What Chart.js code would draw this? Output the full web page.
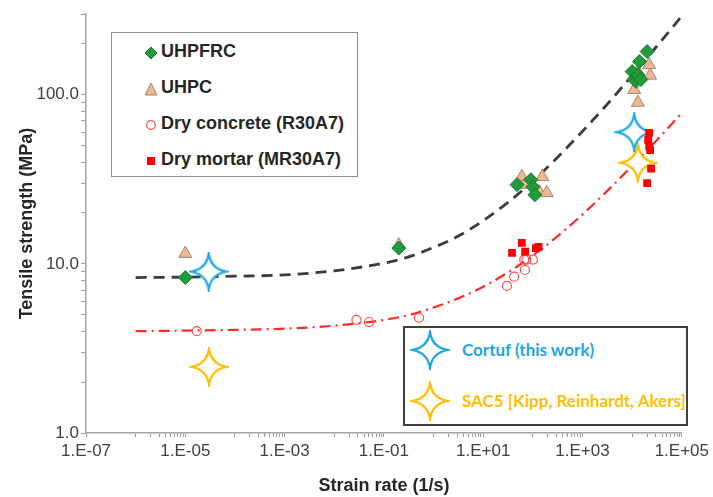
<!DOCTYPE html>
<html>
<head>
<meta charset="utf-8">
<script src="https://cdn.jsdelivr.net/npm/chart.js@4.4.1/dist/chart.umd.min.js"></script>
<style>
    body { margin: 0; background: #fff; }
    #wrap { position: relative; width: 713px; height: 497px; }
    .legend { position: absolute; box-sizing: border-box; background: #fff; }
    .legend .item { position: absolute; white-space: nowrap; line-height: 1; }
    .legend .mark { position: absolute; }
    #leg1 { left: 111px; top: 32px; width: 247px; height: 145px; border: 1.5px solid #8c8c8c;
        font: bold 18px "Liberation Sans", Arial, sans-serif; color: #262626; }
    #leg2 { left: 403px; top: 326px; width: 285px; height: 100px; border: 2px solid #404040;
        font: bold 17px Lato, "Open Sans", sans-serif; }
</style>
</head>
<body>
<div id="wrap">
    <canvas id="grafico" width="713" height="497"></canvas>
    <div id="leg1" class="legend"></div>
    <div id="leg2" class="legend"></div>
</div>
<script>
// Ejes
const xTicks = [1e-7, 1e-5, 1e-3, 1e-1, 1e1, 1e3, 1e5];
const xTickLabels = ['1.E-07', '1.E-05', '1.E-03', '1.E-01', '1.E+01', '1.E+03', '1.E+05'];
const yTicks = [1, 10, 100];
const yTickLabels = ['1.0', '10.0', '100.0'];

// UHPFRC (rombos verdes)
const uhpfrcRate = [1e-5, 0.2, 48, 91, 100, 110, 1.0e4, 1.1e4, 1.2e4, 1.3e4, 1.4e4, 1.5e4, 2.0e4];
const uhpfrcMPa = [8.3, 12.4, 29.4, 31.4, 28.5, 25.6, 137, 123, 120, 131, 157, 123, 180];

// UHPC (triángulos)
const uhpcRate = [1e-5, 0.2, 60, 70, 135, 155, 190, 1.1e4, 1.3e4, 1.3e4, 2.2e4, 2.3e4];
const uhpcMPa = [11.5, 12.9, 32.7, 29.4, 26.6, 32.7, 26.3, 107, 90, 137, 150, 130];

// Dry concrete (R30A7) círculos
const concreteRate = [1.7e-5, 0.028, 0.05, 0.51, 30, 42, 67, 69, 74, 100];
const concreteMPa = [4.0, 4.66, 4.53, 4.8, 7.4, 8.4, 10.6, 9.2, 10.6, 10.6];

// Dry mortar (MR30A7) cuadrados
const mortarRate = [38, 60, 70, 115, 130, 2.0e4, 2.1e4, 2.2e4, 2.2e4, 2.3e4, 2.4e4];
const mortarMPa = [11.6, 13.3, 11.8, 12.4, 12.6, 30, 54, 59.5, 49.3, 47, 36.6];

// Estrellas
const cortufRate = [2.95e-5, 1.1e4];
const cortufMPa = [9.0, 60];
const sac5Rate = [3.0e-5, 1.3e4];
const sac5MPa = [2.46, 39.6];

// Curvas de ajuste
const fitRate = [1e-6, 1e-5, 1e-4, 1e-3, 1e-2, 1e-1, 0.316, 1, 3.16, 10, 31.6, 100, 316, 1e3, 3160, 1e4, 31600, 1e5];
const blackFit = [8.3, 8.35, 8.45, 8.6, 9.1, 10.1, 11.0, 12.5, 14.6, 18.0, 23.1, 30.8, 42.7, 60.8, 88, 130, 194, 292];
const redFit = [4.0, 4.03, 4.07, 4.14, 4.31, 4.66, 4.98, 5.52, 6.25, 7.33, 8.9, 11.2, 14.6, 19.6, 27, 38, 54, 78];

const pares = (xs, ys) => xs.map((x, i) => ({ x: x, y: ys[i] }));

// Estrella de cuatro puntas
function hacerEstrella(color, size) {
    const c = document.createElement('canvas');
    c.width = c.height = size;
    const g = c.getContext('2d');
    const m = size / 2, r = size / 2 - 2, k = r * 0.13;
    g.beginPath();
    g.moveTo(m, m - r);
    g.quadraticCurveTo(m + k, m - k, m + r, m);
    g.quadraticCurveTo(m + k, m + k, m, m + r);
    g.quadraticCurveTo(m - k, m + k, m - r, m);
    g.quadraticCurveTo(m - k, m - k, m, m - r);
    g.closePath();
    g.fillStyle = '#fff';
    g.fill();
    g.lineWidth = 2.2;
    g.strokeStyle = color;
    g.stroke();
    return c;
}

const AZUL = '#1ba6e6';
const ORO = '#ffbf00';

function mismoValor(a, b) {
    return Math.abs(Math.log10(a) - Math.log10(b)) < 1e-6;
}

function etiqueta(valores, textos) {
    return function (v) {
        const i = valores.findIndex(t => mismoValor(t, v));
        return i >= 0 ? textos[i] : '';
    };
}

const fuente = { family: '"Liberation Sans", Arial, sans-serif', size: 17 };
const fuenteTitulo = { family: '"Liberation Sans", Arial, sans-serif', size: 18, weight: 'bold' };

new Chart(document.getElementById('grafico'), {
    type: 'scatter',
    data: {
        datasets: [
            {
                label: 'Cortuf (this work)',
                data: pares(cortufRate, cortufMPa),
                pointStyle: hacerEstrella(AZUL, 40),
                order: 1
            },
            {
                label: 'SAC5 [Kipp, Reinhardt, Akers]',
                data: pares(sac5Rate, sac5MPa),
                pointStyle: hacerEstrella(ORO, 40),
                order: 1
            },
            {
                label: 'Dry mortar (MR30A7)',
                data: pares(mortarRate, mortarMPa),
                pointStyle: 'rect',
                pointRadius: 5.5,
                backgroundColor: '#ff0000',
                borderColor: '#ff0000',
                borderWidth: 0,
                order: 0
            },
            {
                label: 'UHPFRC',
                data: pares(uhpfrcRate, uhpfrcMPa),
                pointStyle: 'rectRot',
                pointRadius: 7,
                backgroundColor: '#1f9b3c',
                borderColor: '#187a2e',
                borderWidth: 1,
                order: 2
            },
            {
                label: 'UHPC',
                data: pares(uhpcRate, uhpcMPa),
                pointStyle: 'triangle',
                pointRadius: 7.5,
                backgroundColor: '#f2b68c',
                borderColor: '#9a8a80',
                borderWidth: 1,
                order: 3
            },
            {
                label: 'Dry concrete (R30A7)',
                data: pares(concreteRate, concreteMPa),
                pointStyle: 'circle',
                pointRadius: 4.5,
                backgroundColor: 'rgba(255,255,255,0)',
                borderColor: '#ff4d4d',
                borderWidth: 1.2,
                order: 2
            },
            {
                label: 'ajuste UHPC',
                data: pares(fitRate, blackFit),
                showLine: true,
                pointRadius: 0,
                borderColor: '#3c3c3c',
                borderWidth: 2.8,
                borderDash: [11, 7],
                cubicInterpolationMode: 'monotone',
                order: 5
            },
            {
                label: 'ajuste seco',
                data: pares(fitRate, redFit),
                showLine: true,
                pointRadius: 0,
                borderColor: '#ff2a2a',
                borderWidth: 2.2,
                borderDash: [11, 5, 2, 5],
                cubicInterpolationMode: 'monotone',
                order: 5
            }
        ]
    },
    options: {
        responsive: false,
        animation: false,
        events: [],
        layout: { padding: { left: 16, right: 30, top: 14, bottom: 0 } },
        plugins: { legend: { display: false }, tooltip: { enabled: false } },
        scales: {
            x: {
                type: 'logarithmic',
                min: 1e-7,
                max: 1e5,
                afterBuildTicks: function (s) {
                    const vals = [];
                    xTicks.forEach((t, i) => {
                        vals.push(t);
                        if (i < xTicks.length - 1) {
                            for (let m = 1; m <= 9; m++) vals.push(m * t * 10);
                        }
                    });
                    s.ticks = vals.map(v => ({ value: v }));
                },
                afterFit: function (s) { s.height = 64; },
                ticks: {
                    autoSkip: false,
                    maxRotation: 0,
                    padding: 4,
                    color: '#404040',
                    font: fuente,
                    callback: etiqueta(xTicks, xTickLabels)
                },
                grid: { drawOnChartArea: false, tickLength: 4, tickColor: '#9a9a9a' },
                border: { color: '#a6a6a6', width: 1.5 },
                title: { display: true, text: 'Strain rate (1/s)', color: '#262626', font: fuenteTitulo, padding: { top: 2, bottom: 0 } }
            },
            y: {
                type: 'logarithmic',
                min: 1,
                max: 300,
                afterBuildTicks: function (s) {
                    const vals = [];
                    [1, 10, 100].forEach(t => {
                        for (let m = 1; m <= 9; m++) {
                            if (m * t <= 300) vals.push(m * t);
                        }
                    });
                    s.ticks = vals.map(v => ({ value: v }));
                },
                afterFit: function (s) { s.width = 70; },
                ticks: {
                    autoSkip: false,
                    padding: 2,
                    color: '#404040',
                    font: fuente,
                    callback: etiqueta(yTicks, yTickLabels)
                },
                grid: { drawOnChartArea: false, tickLength: 5, tickColor: '#9a9a9a' },
                border: { color: '#a6a6a6', width: 1.5 },
                title: { display: true, text: 'Tensile strength (MPa)', color: '#262626', font: fuenteTitulo, padding: 0 }
            }
        }
    }
});

// Leyendas en HTML
function svgMarca(tipo) {
    const formas = {
        rombo: '<polygon points="7,1 13,7 7,13 1,7" fill="#1f9b3c" stroke="#187a2e"/>',
        triangulo: '<polygon points="7,1 13,13 1,13" fill="#f2b68c" stroke="#9a8a80"/>',
        circulo: '<circle cx="7" cy="7" r="4.3" fill="none" stroke="#ff4d4d" stroke-width="1.2"/>',
        cuadrado: '<rect x="3" y="3" width="8" height="8" fill="#ff0000"/>'
    };
    return '<svg width="14" height="14">' + formas[tipo] + '</svg>';
}

const leg1 = document.getElementById('leg1');
[['rombo', 'UHPFRC'], ['triangulo', 'UHPC'], ['circulo', 'Dry concrete (R30A7)'], ['cuadrado', 'Dry mortar (MR30A7)']]
    .forEach((par, i) => {
        const yc = 18 + i * 36;
        leg1.insertAdjacentHTML('beforeend',
            `<div class="mark" style="left:32px;top:${yc - 7}px">${svgMarca(par[0])}</div>` +
            `<div class="item" style="left:49px;top:${yc - 9}px">${par[1]}</div>`);
    });

const leg2 = document.getElementById('leg2');
[[AZUL, 'Cortuf (this work)'], [ORO, 'SAC5 [Kipp, Reinhardt, Akers]']].forEach((par, i) => {
    const yc = 22 + i * 51;
    const est = hacerEstrella(par[0], 40);
    est.className = 'mark';
    est.style.left = (25 - 20) + 'px';
    est.style.top = (yc - 20) + 'px';
    leg2.appendChild(est);
    leg2.insertAdjacentHTML('beforeend',
        `<div class="item" style="left:57px;top:${yc - 9}px;color:${par[0]}">${par[1]}</div>`);
});
</script>
</body>
</html>
